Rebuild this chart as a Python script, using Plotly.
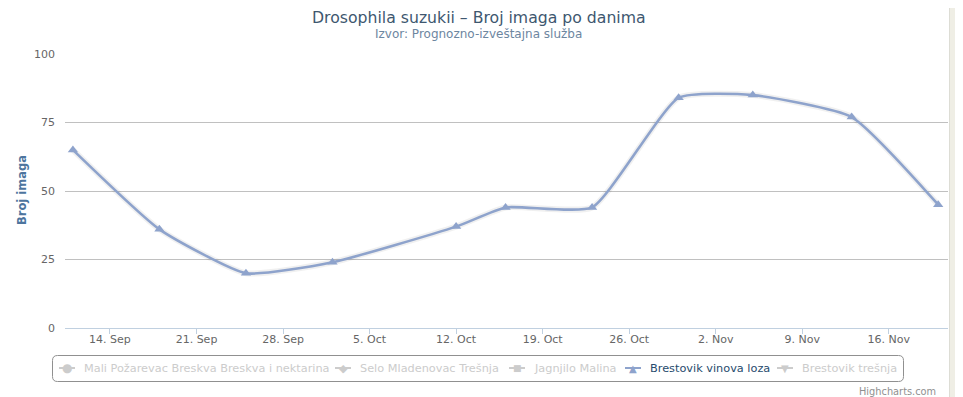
import plotly.graph_objects as go

# ---- data ----
dates = ["2015-09-11", "2015-09-18", "2015-09-25", "2015-10-02", "2015-10-12",
         "2015-10-16", "2015-10-23", "2015-10-30", "2015-11-05", "2015-11-13",
         "2015-11-20"]
brestovik_vinova_loza = [65, 36, 20, 24, 37, 44, 44, 84, 85, 77, 45]

series_names = ["Mali Požarevac Breskva Breskva i nektarina",
                "Selo Mladenovac Trešnja",
                "Jagnjilo Malina",
                "Brestovik vinova loza",
                "Brestovik trešnja"]
series_glyphs = ["●", "◆", "■", "▲", "▼"]
visible_series = "Brestovik vinova loza"

title_text = "Drosophila suzukii – Broj imaga po danima"
subtitle_text = "Izvor: Prognozno-izveštajna služba"
y_title = "Broj imaga"
y_ticks = [0, 25, 50, 75, 100]
credit_text = "Highcharts.com"

# ---- layout geometry (page pixels; the page body adds an 8px offset) ----
OFF = 8
W, H = 963 - OFF, 397 - OFF
P_LEFT, P_RIGHT, P_TOP, P_BOTTOM = 65, 948, 54, 328   # plot area in page px
ML = P_LEFT - OFF
MR = (W + OFF) - P_RIGHT
MT = P_TOP - OFF
MB = (H + OFF) - P_BOTTOM

def px(x):
    return (x - P_LEFT) / (P_RIGHT - P_LEFT)

def py(y):
    return (P_BOTTOM - y) / (P_BOTTOM - P_TOP)

FONT = "DejaVu Sans"
LINE_COLOR = "#8EA3CC"
GREY = "#CCCCCC"
SMOOTH = 0.5

fig = go.Figure()

# faint shadow under the line
fig.add_trace(go.Scatter(
    x=dates, y=brestovik_vinova_loza, mode="lines",
    line=dict(color="rgba(0,0,0,0.06)", width=6, shape="spline", smoothing=SMOOTH),
    showlegend=False, hoverinfo="skip"))

fig.add_trace(go.Scatter(
    x=dates, y=brestovik_vinova_loza, mode="lines+markers", name=visible_series,
    line=dict(color=LINE_COLOR, width=2.6, shape="spline", smoothing=SMOOTH),
    marker=dict(symbol="triangle-up", size=9, color=LINE_COLOR),
    showlegend=False))

# ---- custom legend (Highcharts style) ----
leg_centers = [67, 343, 517, 633, 785]
glyph_sizes = [12, 11, 9, 10, 10]
leg_y = 368
annotations = []
shapes = [
    dict(type="rect", xref="paper", yref="paper", layer="below",
         x0=px(0), x1=px(949), y0=py(400), y1=py(0),
         fillcolor="white", line=dict(width=0)),
    dict(type="line", xref="paper", yref="paper", layer="below",
         x0=px(949.5), x1=px(949.5), y0=py(400), y1=py(0),
         line=dict(color="#DDDDD5", width=1)),
]
for name, glyph, gs, cx in zip(series_names, series_glyphs, glyph_sizes, leg_centers):
    col = LINE_COLOR if name == visible_series else GREY
    shapes.append(dict(type="line", xref="paper", yref="paper",
                       x0=px(cx - 8), x1=px(cx + 8), y0=py(leg_y), y1=py(leg_y),
                       line=dict(color=col, width=2)))
    annotations.append(dict(
        text=glyph, xref="paper", yref="paper", x=px(cx), y=py(leg_y),
        xanchor="center", yanchor="middle", showarrow=False,
        font=dict(family=FONT, size=gs, color=col)))
    annotations.append(dict(
        text=name, xref="paper", yref="paper", x=px(cx + 15), y=py(leg_y),
        xanchor="left", yanchor="middle", showarrow=False,
        font=dict(family=FONT, size=11.3,
                  color="#274B6D" if name == visible_series else GREY)))

annotations += [
    dict(text=title_text, xref="paper", yref="paper", x=px(478.5), y=py(18),
         xanchor="center", yanchor="middle", showarrow=False,
         font=dict(family=FONT, size=15.7, color="#3E576F")),
    dict(text=subtitle_text, xref="paper", yref="paper", x=px(478.5), y=py(34),
         xanchor="center", yanchor="middle", showarrow=False,
         font=dict(family=FONT, size=12, color="#6D869F")),
    dict(text=f"<b>{y_title}</b>", xref="paper", yref="paper", x=px(22), y=py(190),
         xanchor="center", yanchor="middle", showarrow=False, textangle=-90,
         font=dict(family=FONT, size=11.5, color="#4D759E")),
    dict(text=credit_text, xref="paper", yref="paper", x=px(938), y=py(391),
         xanchor="right", yanchor="middle", showarrow=False,
         font=dict(family=FONT, size=9.8, color="#909090")),
]

# rounded legend box
x0, x1, y0, y1, r = 52.5, 903.5, 355.5, 381.5, 5
path = (f"M {px(x0 + r)},{py(y0)} L {px(x1 - r)},{py(y0)} "
        f"Q {px(x1)},{py(y0)} {px(x1)},{py(y0 + r)} "
        f"L {px(x1)},{py(y1 - r)} Q {px(x1)},{py(y1)} {px(x1 - r)},{py(y1)} "
        f"L {px(x0 + r)},{py(y1)} Q {px(x0)},{py(y1)} {px(x0)},{py(y1 - r)} "
        f"L {px(x0)},{py(y0 + r)} Q {px(x0)},{py(y0)} {px(x0 + r)},{py(y0)} Z")
shapes.append(dict(type="path", xref="paper", yref="paper", path=path,
                   line=dict(color="#909090", width=1), fillcolor="rgba(0,0,0,0)"))

fig.update_layout(
    width=W, height=H, autosize=False,
    margin=dict(l=ML, r=MR, t=MT, b=MB, autoexpand=False),
    paper_bgcolor="#EFEEE5", plot_bgcolor="white",
    font=dict(family=FONT, size=12, color="#3E576F"),
    showlegend=False,
    xaxis=dict(type="date", range=["2015-09-10 08:40", "2015-11-20 19:00"],
               tick0="2015-09-14", dtick=7 * 24 * 3600 * 1000, tickformat="%-d. %b",
               showgrid=False, showline=True, linecolor="#C0D0E0", linewidth=1,
               ticks="outside", ticklen=5, tickcolor="#C0D0E0", ticklabelstandoff=-4,
               tickfont=dict(family=FONT, size=11, color="#666666"), zeroline=False,
               automargin=False),
    yaxis=dict(range=[0, 100], tickvals=y_ticks, showgrid=True, gridcolor="#C0C0C0",
               zeroline=False, showline=False, ticklabelstandoff=9,
               tickfont=dict(family=FONT, size=11, color="#666666"), automargin=False),
    shapes=shapes,
    annotations=annotations,
)

fig.write_html("out.html")
